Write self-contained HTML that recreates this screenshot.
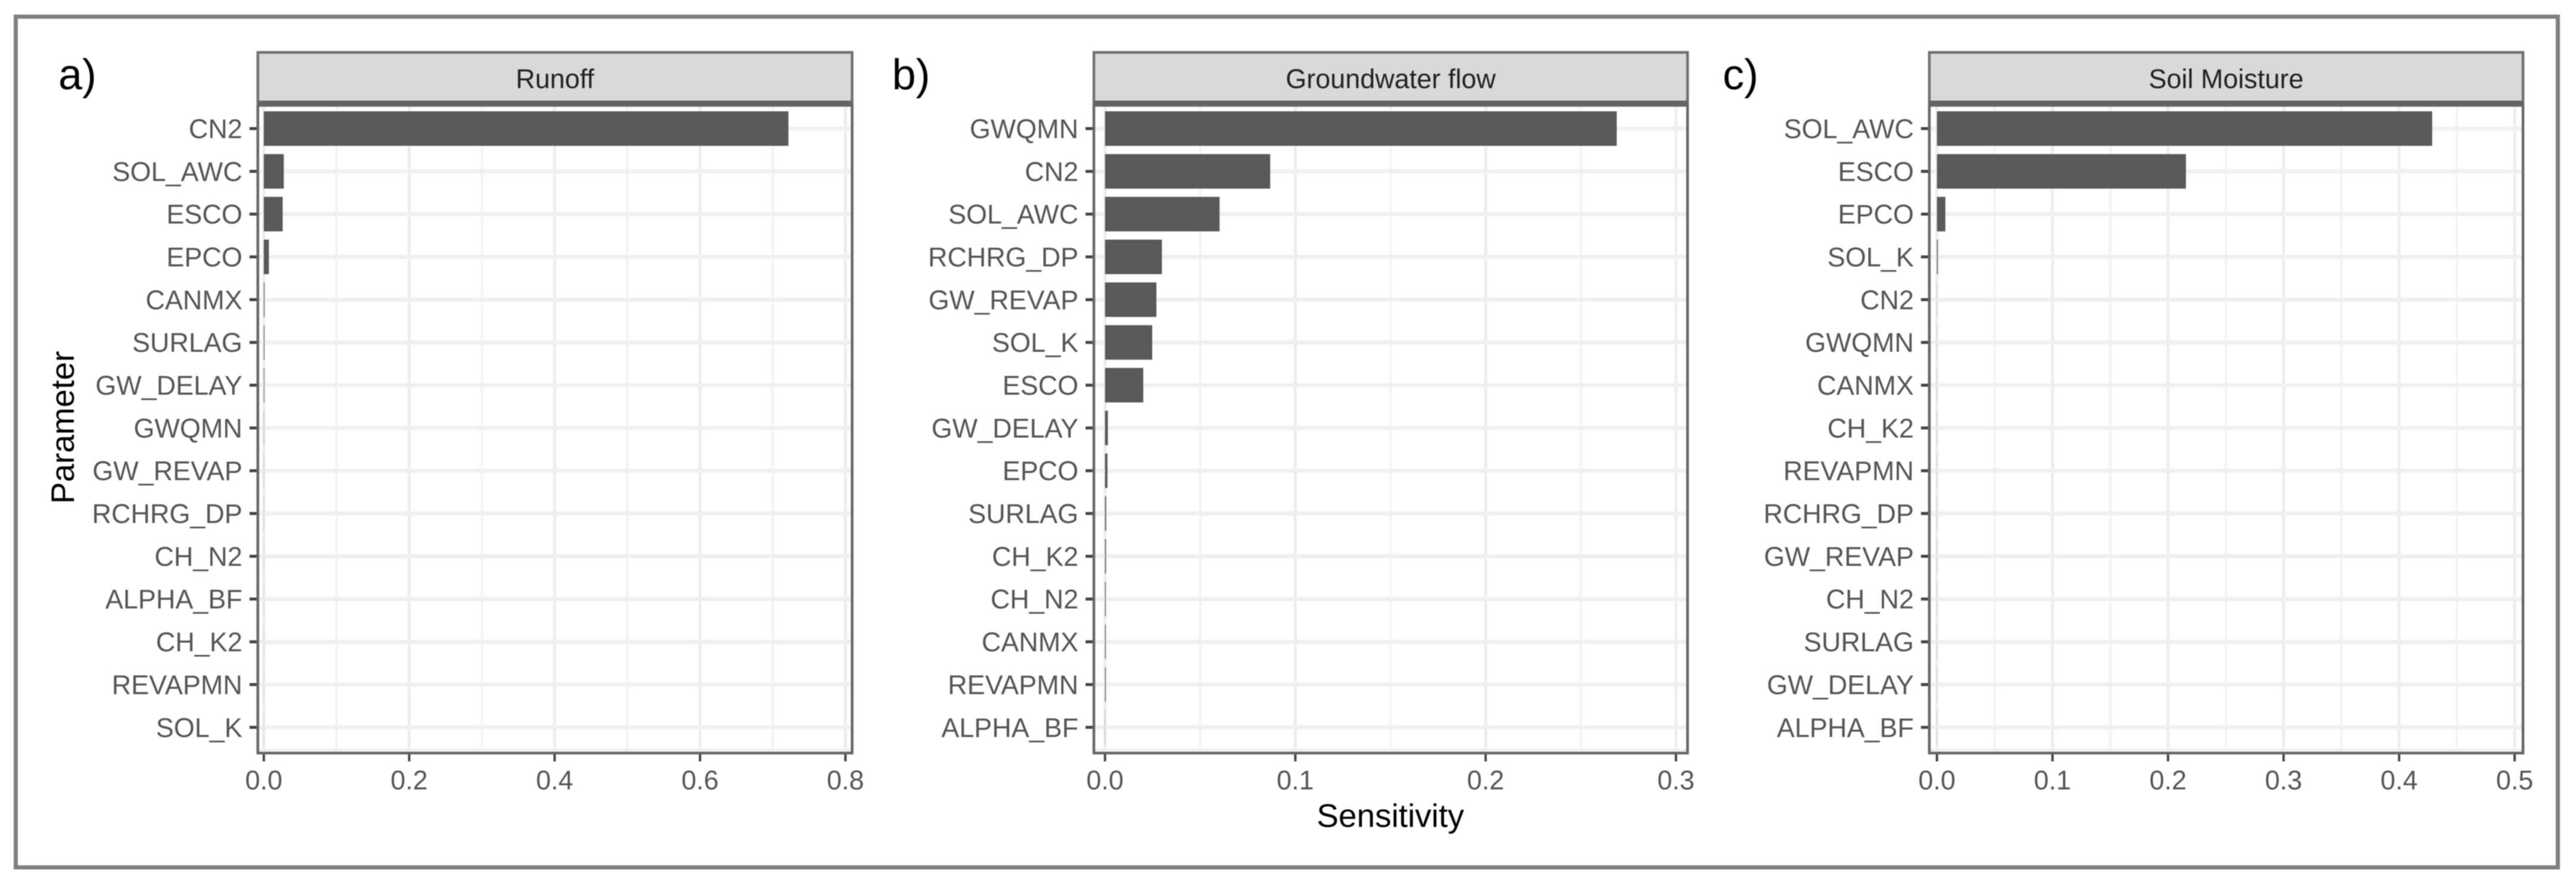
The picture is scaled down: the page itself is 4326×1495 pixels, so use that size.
<!DOCTYPE html>
<html lang="en">
<head>
<meta charset="utf-8">
<title>Parameter sensitivity</title>
<style>
html,body{margin:0;padding:0;background:#fff;width:4326px;height:1495px;overflow:hidden}
svg{display:block;filter:blur(0.8px)}
text{font-family:"Liberation Sans",sans-serif}
</style>
</head>
<body>
<svg id="chart" xmlns="http://www.w3.org/2000/svg" width="4326" height="1495" viewBox="0 0 4326 1495">
  <rect x="0" y="0" width="4326" height="1495" fill="#ffffff"/>
  <rect x="26.5" y="28" width="4269" height="1429" fill="none" stroke="#808080" stroke-width="7"/>
  <text x="98" y="150" font-size="72" fill="#000">a)</text>
  <text x="1498" y="150" font-size="72" fill="#000">b)</text>
  <text x="2893" y="150" font-size="72" fill="#000">c)</text>
  <text transform="translate(124,718) rotate(-90)" text-anchor="middle" font-size="55" fill="#000">Parameter</text>
  <text x="2335" y="1389" text-anchor="middle" font-size="55" fill="#000">Sensitivity</text>
</svg>
<script>
const runoffCategories = ["CN2","SOL_AWC","ESCO","EPCO","CANMX","SURLAG","GW_DELAY","GWQMN","GW_REVAP","RCHRG_DP","CH_N2","ALPHA_BF","CH_K2","REVAPMN","SOL_K"];
const runoffValues = [0.7216,0.0275,0.026,0.007,0.001,0.0009,0.0008,0.0003,0.0002,0.0002,0.0001,0.0001,0.0001,0.0001,0.0001];
const runoffTicks = ["0.0","0.2","0.4","0.6","0.8"];
const runoffMinorTicks = [0.1,0.3,0.5,0.7];

const groundwaterCategories = ["GWQMN","CN2","SOL_AWC","RCHRG_DP","GW_REVAP","SOL_K","ESCO","GW_DELAY","EPCO","SURLAG","CH_K2","CH_N2","CANMX","REVAPMN","ALPHA_BF"];
const groundwaterValues = [0.2689,0.0868,0.0602,0.0299,0.027,0.0248,0.0201,0.0015,0.0013,0.0006,0.0005,0.0004,0.0004,0.0004,0.0001];
const groundwaterTicks = ["0.0","0.1","0.2","0.3"];
const groundwaterMinorTicks = [0.05,0.15,0.25];

const soilCategories = ["SOL_AWC","ESCO","EPCO","SOL_K","CN2","GWQMN","CANMX","CH_K2","REVAPMN","RCHRG_DP","GW_REVAP","CH_N2","SURLAG","GW_DELAY","ALPHA_BF"];
const soilValues = [0.4286,0.2155,0.0073,0.0008,0.0001,0.0001,0.0001,0.0001,0.0001,0.0001,0.0001,0.0001,0.0001,0.0001,0.0001];
const soilTicks = ["0.0","0.1","0.2","0.3","0.4","0.5"];
const soilMinorTicks = [0.05,0.15,0.25,0.35,0.45];

const svg = document.getElementById('chart');
const NS = 'http://www.w3.org/2000/svg';

function make(tag, props, text) {
  const el = document.createElementNS(NS, tag);
  for (const k in props) el.setAttribute(k, props[k]);
  if (text !== undefined) el.textContent = text;
  svg.appendChild(el);
  return el;
}

function drawPanel(key, title, cats, vals, ticks, minors, box) {
  const xScale = v => box.x0 + v * box.pxPerUnit;
  const yScale = i => 216 + i * 71.84;
  const top = 177, bottom = 1265;

  const panelBg = make('rect', {x: box.left, y: top, width: box.right - box.left, height: bottom - top, fill: '#fff'});
  
  

  minors.forEach(v => {
    const l = make('line', {x1: xScale(v), x2: xScale(v), y1: top, y2: bottom, stroke: '#f3f3f3', 'stroke-width': 4});
    
    
  });
  ticks.forEach(t => {
    const l = make('line', {x1: xScale(+t), x2: xScale(+t), y1: top, y2: bottom, stroke: '#ededed', 'stroke-width': 5});
    
    
  });
  cats.forEach((c, i) => {
    const l = make('line', {x1: box.left, x2: box.right, y1: yScale(i), y2: yScale(i), stroke: '#f0f0f0', 'stroke-width': 7});
    
    
  });
  const band = make('line', {x1: box.left, x2: box.right, y1: bottom - 5, y2: bottom - 5, stroke: '#f0f0f0', 'stroke-width': 5});
  
  

  vals.forEach((v, i) => {
    const b = make('rect', {x: xScale(0), y: yScale(i) - 29, width: Math.max(0, xScale(v) - xScale(0)), height: 58, fill: '#595959'});
    
    
  });

  cats.forEach((c, i) => {
    const m = make('line', {x1: box.left - 14, x2: box.left, y1: yScale(i), y2: yScale(i), stroke: '#444', 'stroke-width': 5});
    
    
    const t = make('text', {x: box.left - 26, y: yScale(i) + 16, 'text-anchor': 'end', 'font-size': 45, fill: '#555'}, c);
    
    
  });

  ticks.forEach(t => {
    const m = make('line', {x1: xScale(+t), x2: xScale(+t), y1: bottom, y2: bottom + 14, stroke: '#444', 'stroke-width': 4});
    
    
    const l = make('text', {x: xScale(+t), y: 1326, 'text-anchor': 'middle', 'font-size': 45, fill: '#555'}, t);
    
    
  });

  const border = make('rect', {x: box.left, y: top, width: box.right - box.left, height: bottom - top, fill: 'none', stroke: '#666', 'stroke-width': 4.5});
  
  

  const strip = make('rect', {x: box.left, y: 88, width: box.right - box.left, height: 85, fill: '#d9d9d9', stroke: '#707070', 'stroke-width': 4.5});
  
  
  const stripEdge = make('line', {x1: box.left, x2: box.right, y1: 173, y2: 173, stroke: '#636363', 'stroke-width': 8});
  
  
  const label = make('text', {x: (box.left + box.right) / 2, y: 148, 'text-anchor': 'middle', 'font-size': 45, fill: '#222'}, title);
  
  
}

drawPanel('runoff', 'Runoff', runoffCategories, runoffValues, runoffTicks, runoffMinorTicks,
  {left: 433, right: 1431, x0: 443, pxPerUnit: 1221});
drawPanel('groundwater', 'Groundwater flow', groundwaterCategories, groundwaterValues, groundwaterTicks, groundwaterMinorTicks,
  {left: 1837, right: 2834, x0: 1855.7, pxPerUnit: 3196});
drawPanel('soil', 'Soil Moisture', soilCategories, soilValues, soilTicks, soilMinorTicks,
  {left: 3240, right: 4237, x0: 3252.8, pxPerUnit: 1940.4});
</script>
</body>
</html>
